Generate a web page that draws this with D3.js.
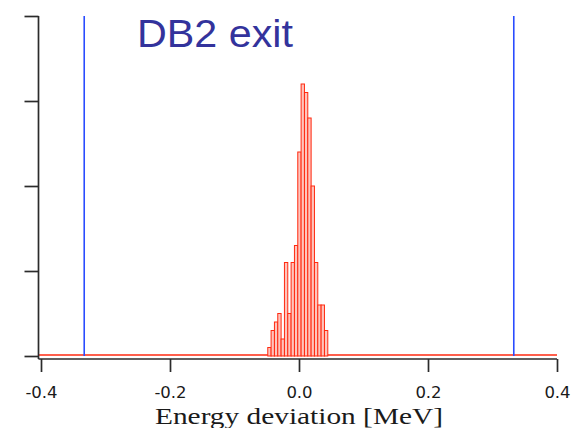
<!DOCTYPE html>
<html>
<head>
<meta charset="utf-8">
<script src="https://cdn.jsdelivr.net/npm/d3@7"></script>
<style>
  body { margin: 0; background: #fff; }
  svg { display: block; }
</style>
</head>
<body>
<script>
// histogram counts, one per bin
const counts = [1, 3, 4, 5, 2, 11, 5, 11, 13, 24, 32, 31, 28, 20, 11, 6, 6, 3];
const binStart = -0.0492;   // left edge of first bin [MeV]
const binWidth = 0.00517;   // bin width [MeV]
const limits = [-0.333, 0.333];  // blue acceptance lines
const xTicks = [-0.4, -0.2, 0.0, 0.2, 0.4];
const xTickLabels = ["-0.4", "-0.2", "0.0", "0.2", "0.4"];
const yTicks = [0, 10, 20, 30, 40];

const width = 582, height = 428;

const svg = d3.select("body").append("svg")
  .attr("width", width)
  .attr("height", height);

const x = d3.scaleLinear().domain([-0.4, 0.4]).range([41, 557]);
const y = d3.scaleLinear().domain([0, 40]).range([356, 16]);

const axisColor = "#2b2b2b";

// red baseline (empty bins over the whole range)
svg.append("line")
  .attr("x1", 39).attr("x2", x(0.4))
  .attr("y1", y(0) - 1).attr("y2", y(0) - 1)
  .attr("stroke", "#ff2a10")
  .attr("stroke-width", 1.6);

// histogram bars
const bins = counts.map((c, i) => ({ x0: binStart + i * binWidth, x1: binStart + (i + 1) * binWidth, c }));
svg.append("g").selectAll("rect")
  .data(bins)
  .enter()
  .append("rect")
  .attr("x", d => x(d.x0) + 0.5)
  .attr("width", d => x(d.x1) - x(d.x0))
  .attr("y", d => y(d.c))
  .attr("height", d => y(0) - y(d.c))
  .attr("fill", "#ffc4bc")
  .attr("stroke", "#ff2a10")
  .attr("stroke-width", 1);

// blue limit lines
svg.append("g").selectAll("line")
  .data(limits)
  .enter()
  .append("line")
  .attr("x1", d => x(d)).attr("x2", d => x(d))
  .attr("y1", y(40)).attr("y2", y(0))
  .attr("stroke", "#2a4cff")
  .attr("stroke-width", 1.6);

// y axis (no labels)
const yAxis = d3.axisLeft(y).tickValues(yTicks).tickSize(14).tickFormat("");
const gy = svg.append("g")
  .attr("transform", "translate(38.5,0)")
  .call(yAxis);
gy.select(".domain").attr("d", "M0," + y(40) + "V359");

// x axis, offset slightly below the zero line
const xAxis = d3.axisBottom(x).tickValues(xTicks).tickSize(13)
  .tickFormat((d, i) => xTickLabels[i]);
const gx = svg.append("g")
  .attr("transform", "translate(0,359)")
  .call(xAxis);
gx.select(".domain").attr("d", "M38.5,0H" + x(0.4));
gx.selectAll("text")
  .attr("y", 38.5)
  .attr("dy", 0)
  .attr("font-family", "DejaVu Sans, Verdana, sans-serif")
  .attr("font-size", 16.5)
  .attr("fill", "#1a1a1a");

[gx, gy].forEach(g => {
  g.selectAll(".domain, .tick line")
    .attr("stroke", axisColor)
    .attr("stroke-width", 1.7);
});

// axis title
svg.append("text")
  .attr("x", 299)
  .attr("y", 424)
  .attr("text-anchor", "middle")
  .attr("font-family", "Liberation Serif, Times New Roman, serif")
  .attr("font-size", 24)
  .attr("textLength", 288)
  .attr("lengthAdjust", "spacingAndGlyphs")
  .attr("fill", "#1a1a1a")
  .text("Energy deviation [MeV]");

// chart title
svg.append("text")
  .attr("x", 137)
  .attr("y", 47)
  .attr("font-family", "Liberation Sans, Arial, sans-serif")
  .attr("font-size", 38)
  .attr("textLength", 156)
  .attr("lengthAdjust", "spacingAndGlyphs")
  .attr("fill", "#33339c")
  .text("DB2 exit");
</script>
</body>
</html>
